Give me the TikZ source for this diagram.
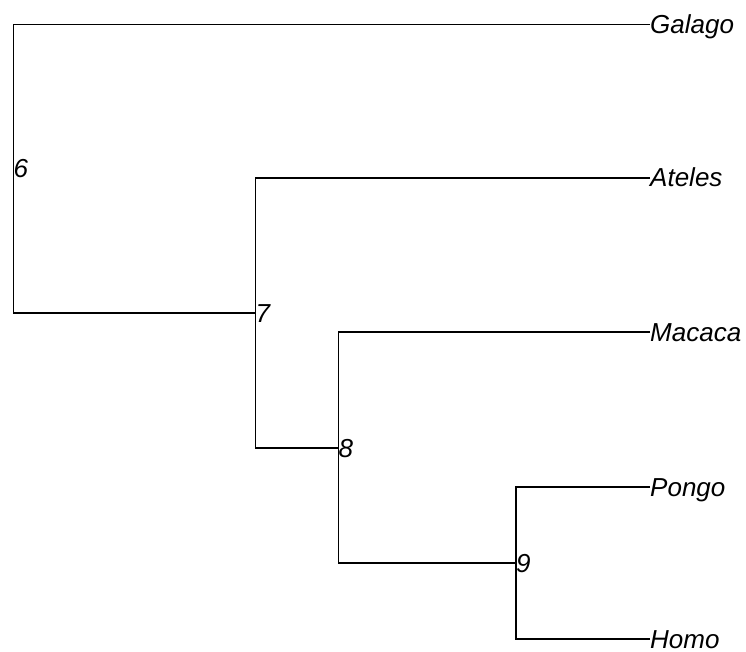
\documentclass[tikz,border=0pt]{standalone}
\usepackage{fontspec}
\setmainfont{Liberation Sans}
\begin{document}
\begin{tikzpicture}[x=1pt,y=-1pt,
  edge/.style={line width=1.1pt,black},
  tip/.style={anchor=base west,inner sep=0pt,font=\fontsize{26}{30}\selectfont\itshape,yshift=-9pt},
  inner/.style={anchor=base west,inner sep=0pt,font=\fontsize{26}{30}\selectfont\itshape,yshift=-9pt}]
\useasboundingbox (0,0) rectangle (746,652);
% internal nodes
\coordinate (n6) at (13.3,169);
\coordinate (n7) at (255.5,313);
\coordinate (n8) at (338.5,448);
\coordinate (n9) at (516,563);
% tips
\coordinate (tGalago) at (650,24.5);
\coordinate (tAteles) at (650,178);
\coordinate (tMacaca) at (650,332);
\coordinate (tPongo) at (650,487);
\coordinate (tHomo) at (650,639);
% edges
\draw[edge] (tGalago) -| (n6) |- (n7);
\draw[edge] (tAteles) -| (n7) |- (n8);
\draw[edge] (tMacaca) -| (n8) |- (n9);
\draw[edge] (tPongo) -| (n9) |- (tHomo);
% labels
\node[tip] (lGalago) at (tGalago) {Galago};
\node[tip] (lAteles) at (tAteles) {Ateles};
\node[tip] (lMacaca) at (tMacaca) {Macaca};
\node[tip] (lPongo) at (tPongo) {Pongo};
\node[tip] (lHomo) at (tHomo) {Homo};
\node[inner] (l6) at (n6) {6};
\node[inner] (l7) at (n7) {7};
\node[inner] (l8) at (n8) {8};
\node[inner] (l9) at (n9) {9};
\end{tikzpicture}
\end{document}
